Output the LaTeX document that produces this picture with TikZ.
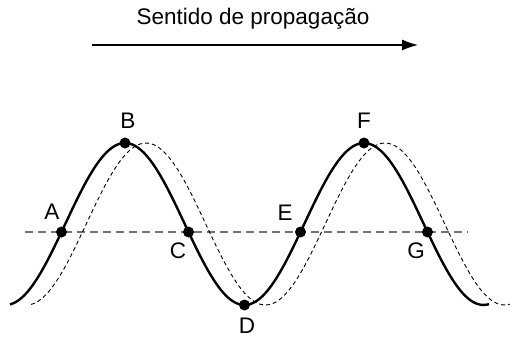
\documentclass[tikz,border=0pt]{standalone}
\usepackage{fontspec}
\setmainfont{Liberation Sans}
\usepackage{tikz}
\usetikzlibrary{arrows.meta}

\begin{document}
\begin{tikzpicture}[
    x=1pt, y=-1pt,
    dot/.style={circle, fill=black, inner sep=0pt, minimum size=11pt},
    lbl/.style={inner sep=0pt, font=\fontsize{22.5}{27}\selectfont},
    wave/.style={line width=2.4pt, black},
    ghost/.style={line width=0.9pt, black, dash pattern=on 4pt off 3pt},
    axis/.style={line width=1.4pt, black!55, dash pattern=on 8pt off 5pt}
]
    \useasboundingbox (0,0) rectangle (510,339);

    % direction of propagation
    \node[lbl, anchor=base] (title) at (253,25) {Sentido de propagação};
    \coordinate (arrstart) at (92,45);
    \coordinate (arrend)   at (418,45);
    \draw[line width=1.3pt, -{Latex[length=16pt,width=11pt]}] (arrstart) -- (arrend);

    % axis and the two waves
    \coordinate (axl) at (25,232);
    \coordinate (axr) at (468,232);
    \draw[axis] (axl) -- (axr);
    \draw[ghost] plot[domain=31:510, samples=120, smooth] (\x,{224-81*cos(1.50628*(\x-146))});
    \draw[wave]  plot[domain=10:489, samples=120, smooth] (\x,{224-81*cos(1.50628*(\x-125))});

    % marked points
    \node[dot] (A) at (61.5,232) {};
    \node[dot] (B) at (125,143)  {};
    \node[dot] (C) at (188.5,232) {};
    \node[dot] (D) at (244.5,305) {};
    \node[dot] (E) at (300.5,232) {};
    \node[dot] (F) at (364,143)  {};
    \node[dot] (G) at (427.5,232) {};

    \node[lbl] (lA) at (52,212)  {A};
    \node[lbl] (lB) at (128,121) {B};
    \node[lbl] (lC) at (178,251) {C};
    \node[lbl] (lD) at (247,326) {D};
    \node[lbl] (lE) at (285,213) {E};
    \node[lbl] (lF) at (364,121) {F};
    \node[lbl] (lG) at (416,251) {G};
\end{tikzpicture}
\end{document}
